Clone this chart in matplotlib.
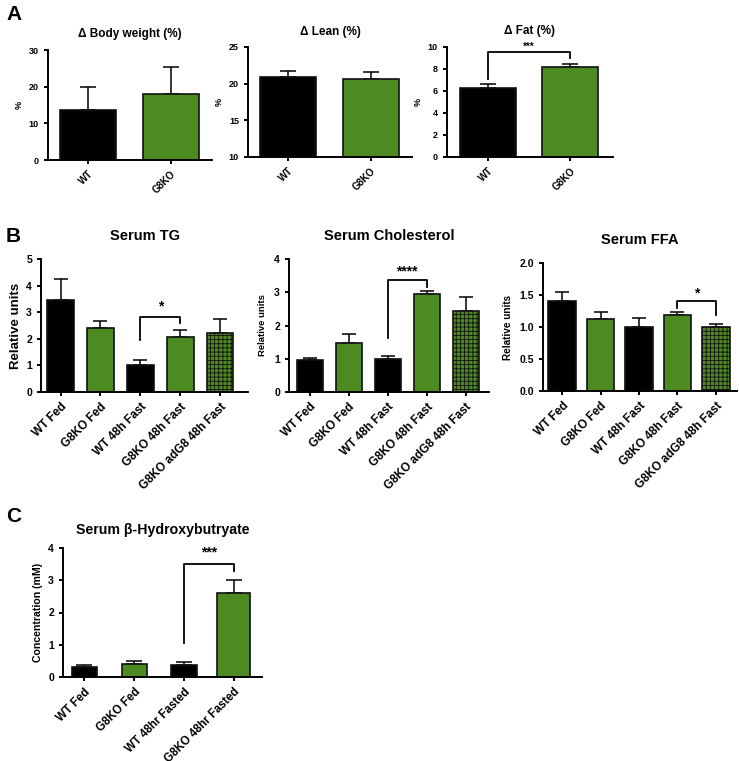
import matplotlib
matplotlib.use("Agg")
import matplotlib.pyplot as plt
import numpy as np

plt.rcParams['font.family'] = ['Liberation Sans', 'DejaVu Sans']
plt.rcParams['font.weight'] = 'bold'
plt.rcParams['hatch.color'] = '#1a2a0a'
plt.rcParams['hatch.linewidth'] = 0.6

BLACK = '#000000'
GREEN = '#4e8a22'

# ---------------- data ----------------
a_cats = ['WT', 'G8KO']
bw_vals = [13.7, 18.0]
bw_err = [19.8, 25.3]
lean_vals = [20.9, 20.7]
lean_err = [21.7, 21.6]
fat_vals = [6.3, 8.2]
fat_err = [6.65, 8.5]

b_cats = ['WT Fed', 'G8KO Fed', 'WT 48h Fast', 'G8KO 48h Fast', 'G8KO adG8 48h Fast']
tg_vals = [3.45, 2.4, 1.0, 2.07, 2.2]
tg_err = [4.25, 2.68, 1.2, 2.33, 2.75]
chol_vals = [0.95, 1.47, 1.0, 2.95, 2.43]
chol_err = [1.03, 1.73, 1.07, 3.03, 2.87]
ffa_vals = [1.41, 1.12, 1.0, 1.18, 1.0]
ffa_err = [1.54, 1.23, 1.14, 1.23, 1.05]

c_cats = ['WT Fed', 'G8KO Fed', 'WT 48hr Fasted', 'G8KO 48hr Fasted']
bhb_vals = [0.3, 0.4, 0.37, 2.6]
bhb_err = [0.37, 0.5, 0.47, 3.0]

a_colors = [BLACK, GREEN]
b_colors = [BLACK, GREEN, BLACK, GREEN, GREEN]
b_hatch = [None, None, None, None, '++++']
c_colors = [BLACK, GREEN, BLACK, GREEN]

W, H = 739, 761
fig = plt.figure(figsize=(W / 100, H / 100), dpi=100)


def make_ax(x0, x1, ytop, ybot):
    return fig.add_axes([x0 / W, 1 - ybot / H, (x1 - x0) / W, (ybot - ytop) / H])


def style(ax, lw=1.4):
    for s in ['top', 'right']:
        ax.spines[s].set_visible(False)
    for s in ['left', 'bottom']:
        ax.spines[s].set_linewidth(lw)
    ax.tick_params(direction='out', width=lw, length=3)


def draw(ax, cats, vals, errs, colors, xlim, ylim, yticks, width, tick_fs, hatches=None,
         capsize=6, lw=1.4):
    x = np.arange(len(cats))
    for i in range(len(cats)):
        h = hatches[i] if hatches else None
        w = width[i] if isinstance(width, list) else width
        ax.bar(x[i], vals[i], width=w, color=colors[i], edgecolor='#111111',
               linewidth=1.2, hatch=h, zorder=2)
    vals_a = np.array(vals)
    errs_a = np.array(errs)
    ax.errorbar(x, vals_a, yerr=[np.zeros_like(vals_a), errs_a - vals_a], fmt='none',
                ecolor='black', elinewidth=1.1, capsize=capsize, capthick=1.1, zorder=1)
    ax.set_xlim(*xlim)
    ax.set_ylim(*ylim)
    ax.set_yticks(yticks)
    ax.set_xticks(x)
    ax.set_xticklabels(cats, rotation=45, ha='right', rotation_mode='anchor',
                       fontsize=tick_fs, fontweight='bold')
    for lab in ax.get_yticklabels():
        lab.set_fontweight('bold')
    style(ax, lw)


def bracket(ax, x1, x2, y, y1, y2, text, fs, ty):
    ax.plot([x1, x1, x2, x2], [y1, y, y, y2], color='black', lw=1.3, clip_on=False)
    ax.text((x1 + x2) / 2, ty, text, ha='center', va='center', fontsize=fs, clip_on=False)


# ---------------- Panel A ----------------
ax = make_ax(48, 212, 50, 160)
draw(ax, a_cats, bw_vals, bw_err, a_colors, (-0.485, 1.5), (0, 30), [0, 10, 20, 30], 0.68, 7)
ax.tick_params(axis='y', labelsize=6.5)
ax.set_ylabel('%', fontsize=6.5, fontweight='bold')
ax.set_title('Δ Body weight (%)', fontsize=8.5, fontweight='bold', pad=9)

ax = make_ax(248, 412, 47, 157)
draw(ax, a_cats, lean_vals, lean_err, a_colors, (-0.485, 1.5), (10, 25), [10, 15, 20, 25], 0.68, 7)
ax.tick_params(axis='y', labelsize=6.5)
ax.set_ylabel('%', fontsize=6.5, fontweight='bold')
ax.set_title('Δ Lean (%)', fontsize=8.5, fontweight='bold', pad=8.5)

ax = make_ax(447, 613, 47, 157)
draw(ax, a_cats, fat_vals, fat_err, a_colors, (-0.5, 1.52), (0, 10), [0, 2, 4, 6, 8, 10], 0.68, 7)
ax.tick_params(axis='y', labelsize=6.5)
ax.set_ylabel('%', fontsize=6.5, fontweight='bold')
ax.set_title('Δ Fat (%)', fontsize=8.5, fontweight='bold', pad=9.5)
bracket(ax, 0, 1, 9.58, 7.06, 9.0, '***', 7, 9.98)

# ---------------- Panel B ----------------
ax = make_ax(41, 248, 259, 392)
draw(ax, b_cats, tg_vals, tg_err, b_colors, (-0.49, 4.7), (0, 5), [0, 1, 2, 3, 4, 5], 0.67, 8.5,
     hatches=b_hatch, capsize=5)
ax.tick_params(axis='y', labelsize=7.5)
ax.set_ylabel('Relative units', fontsize=9.5, fontweight='bold', labelpad=3)
ax.set_title('Serum TG', fontsize=10.5, fontweight='bold', pad=14)
bracket(ax, 2, 3, 2.83, 1.95, 2.58, '*', 10, 3.2)

ax = make_ax(289, 489, 259, 392)
draw(ax, b_cats, chol_vals, chol_err, b_colors, (-0.53, 4.6), (0, 4), [0, 1, 2, 3, 4], 0.67, 8.5,
     hatches=b_hatch, capsize=5)
ax.tick_params(axis='y', labelsize=7.5)
ax.set_ylabel('Relative units', fontsize=6.8, fontweight='bold', labelpad=5)
ax.set_title('Serum Cholesterol', fontsize=10.5, fontweight='bold', pad=14)
bracket(ax, 2, 3, 3.36, 1.61, 3.17, '****', 10, 3.62)

ax = make_ax(543, 737, 263, 391)
draw(ax, b_cats, ffa_vals, ffa_err, b_colors, (-0.5, 4.55), (0, 2.0), [0, 0.5, 1.0, 1.5, 2.0], 0.72, 8.5,
     hatches=b_hatch, capsize=5)
ax.set_yticklabels(['0.0', '0.5', '1.0', '1.5', '2.0'], fontweight='bold')
ax.tick_params(axis='y', labelsize=7.5)
ax.set_ylabel('Relative units', fontsize=7.2, fontweight='bold', labelpad=5)
ax.set_title('Serum FFA', fontsize=10.5, fontweight='bold', pad=14)
bracket(ax, 3, 4, 1.40, 1.29, 1.18, '*', 10, 1.52)

# ---------------- Panel C ----------------
ax = make_ax(63, 262, 548, 677)
draw(ax, c_cats, bhb_vals, bhb_err, c_colors, (-0.42, 3.56), (0, 4), [0, 1, 2, 3, 4],
     [0.5, 0.5, 0.52, 0.66], 8.3, capsize=6)
ax.tick_params(axis='y', labelsize=7.5)
ax.set_ylabel('Concentration (mM)', fontsize=7.6, fontweight='bold')
ax.set_title('Serum β-Hydroxybutryate', fontsize=10.2, fontweight='bold', pad=10)
bracket(ax, 2, 3, 3.51, 1.05, 3.28, '***', 10, 3.87)

# panel letters
fig.text(6 / W, 1 - 14 / H, 'A', fontsize=15, fontweight='bold', va='center', ha='left')
fig.text(6 / W, 1 - 236 / H, 'B', fontsize=15, fontweight='bold', va='center', ha='left')
fig.text(6 / W, 1 - 516 / H, 'C', fontsize=15, fontweight='bold', va='center', ha='left')

fig.savefig('out.png', dpi=100)
